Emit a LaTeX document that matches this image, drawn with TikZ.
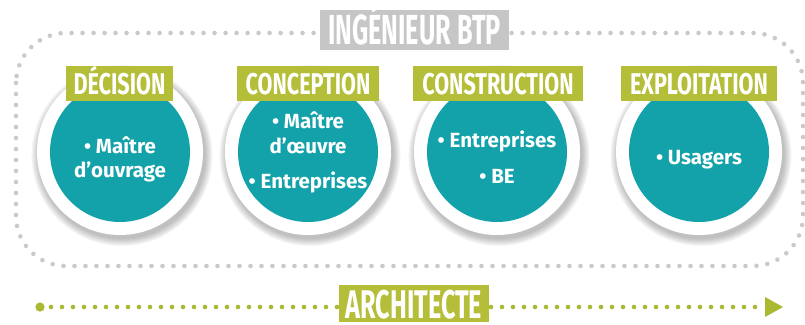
\documentclass[tikz,border=0pt]{standalone}
\usepackage{fontspec}
\newfontfamily\condfont[FakeStretch=0.6]{Fira Sans}
\newfontfamily\archfont[FakeStretch=0.63]{Fira Sans}
\newfontfamily\labfont[FakeStretch=0.72]{Fira Sans}
\newfontfamily\bodyfont{Fira Sans}
\definecolor{tealc}{HTML}{14A2AA}
\definecolor{greenc}{HTML}{B5BE38}
\definecolor{greendot}{HTML}{AAB832}
\definecolor{grayc}{HTML}{C6C6C6}
\definecolor{graydot}{HTML}{CACACA}
\tikzset{
  ring/.style={circle, fill=white, minimum size=166pt, inner sep=0pt},
  core/.style={circle, fill=tealc, minimum size=140pt, inner sep=0pt},
  stagelabel/.style={fill=greenc, text=white, inner sep=0pt, minimum height=35pt,
     text height=21pt, text depth=0pt, font=\labfont\bfseries\fontsize{30}{30}\selectfont},
  bigtag/.style={text=white, inner sep=0pt, text depth=0pt,
     font=\condfont\bfseries\fontsize{42}{42}\selectfont},
  ctext/.style={text=white, anchor=base, inner sep=0pt,
     font=\bodyfont\bfseries\fontsize{20.5}{24}\selectfont},
  graydots/.style={draw=graydot, line width=4.6pt, line cap=round, dash pattern=on 0pt off 11pt},
  greendots/.style={draw=greendot, line width=4.6pt, line cap=round, dash pattern=on 0pt off 11pt},
}
\begin{document}
\begin{tikzpicture}[x=1pt,y=-1pt]
\useasboundingbox (0,0) rectangle (805,324);
% big dotted frame
\draw[graydots, rounded corners=50pt] (16,33) rectangle (803,266);
\node[bigtag, fill=grayc, minimum width=189pt, minimum height=40pt, text height=29pt] (ing) at (414.5,30) {INGÉNIEUR BTP};
% circles
\foreach \n/\cx in {a/120, b/308, c/497, d/699}{
  \foreach \k in {1,...,9}{
    \fill[black, opacity=0.03] (\cx+2,152+3.5) circle ({82.5+\k*0.9});
  }
  \node[ring] (ring\n) at (\cx,152) {};
  \node[core] (core\n) at (\cx,152) {};
}
% stage labels
\node[stagelabel, minimum width=107pt] (la) at (119.5,83.5) {DÉCISION};
\node[stagelabel, minimum width=142pt] (lb) at (308,83.5) {CONCEPTION};
\node[stagelabel, minimum width=170pt] (lc) at (498,83.5) {CONSTRUCTION};
\node[stagelabel, minimum width=156pt] (ld) at (699,83.5) {EXPLOITATION};
% circle texts
\node[ctext] (a1) at (120,153) {• Maître};
\node[ctext] (a2) at (120,177) {d’ouvrage};
\node[ctext] (b1) at (308,128) {• Maître};
\node[ctext] (b2) at (308,153) {d’œuvre};
\node[ctext] (b3) at (308,188) {• Entreprises};
\node[ctext] (c1) at (497,147) {• Entreprises};
\node[ctext] (c2) at (497,183) {• BE};
\node[ctext] (d1) at (699,164) {• Usagers};
% architecte arrow
\coordinate (start) at (40,307);
\coordinate (abase) at (765,307);
\coordinate (tip) at (783,307);
\fill[greendot] (start) circle (4.6pt);
\draw[greendots] (51,307) -- (abase);
\fill[greendot] (765,297) -- (tip) -- (765,317) -- cycle;
\node[fill=greenc, minimum width=150pt, minimum height=37pt, inner sep=0pt,
      text=white, text height=29pt, text depth=0pt,
      font=\archfont\bfseries\fontsize{40}{40}\selectfont] (arch) at (414,303.5) {ARCHITECTE};
\end{tikzpicture}
\end{document}
